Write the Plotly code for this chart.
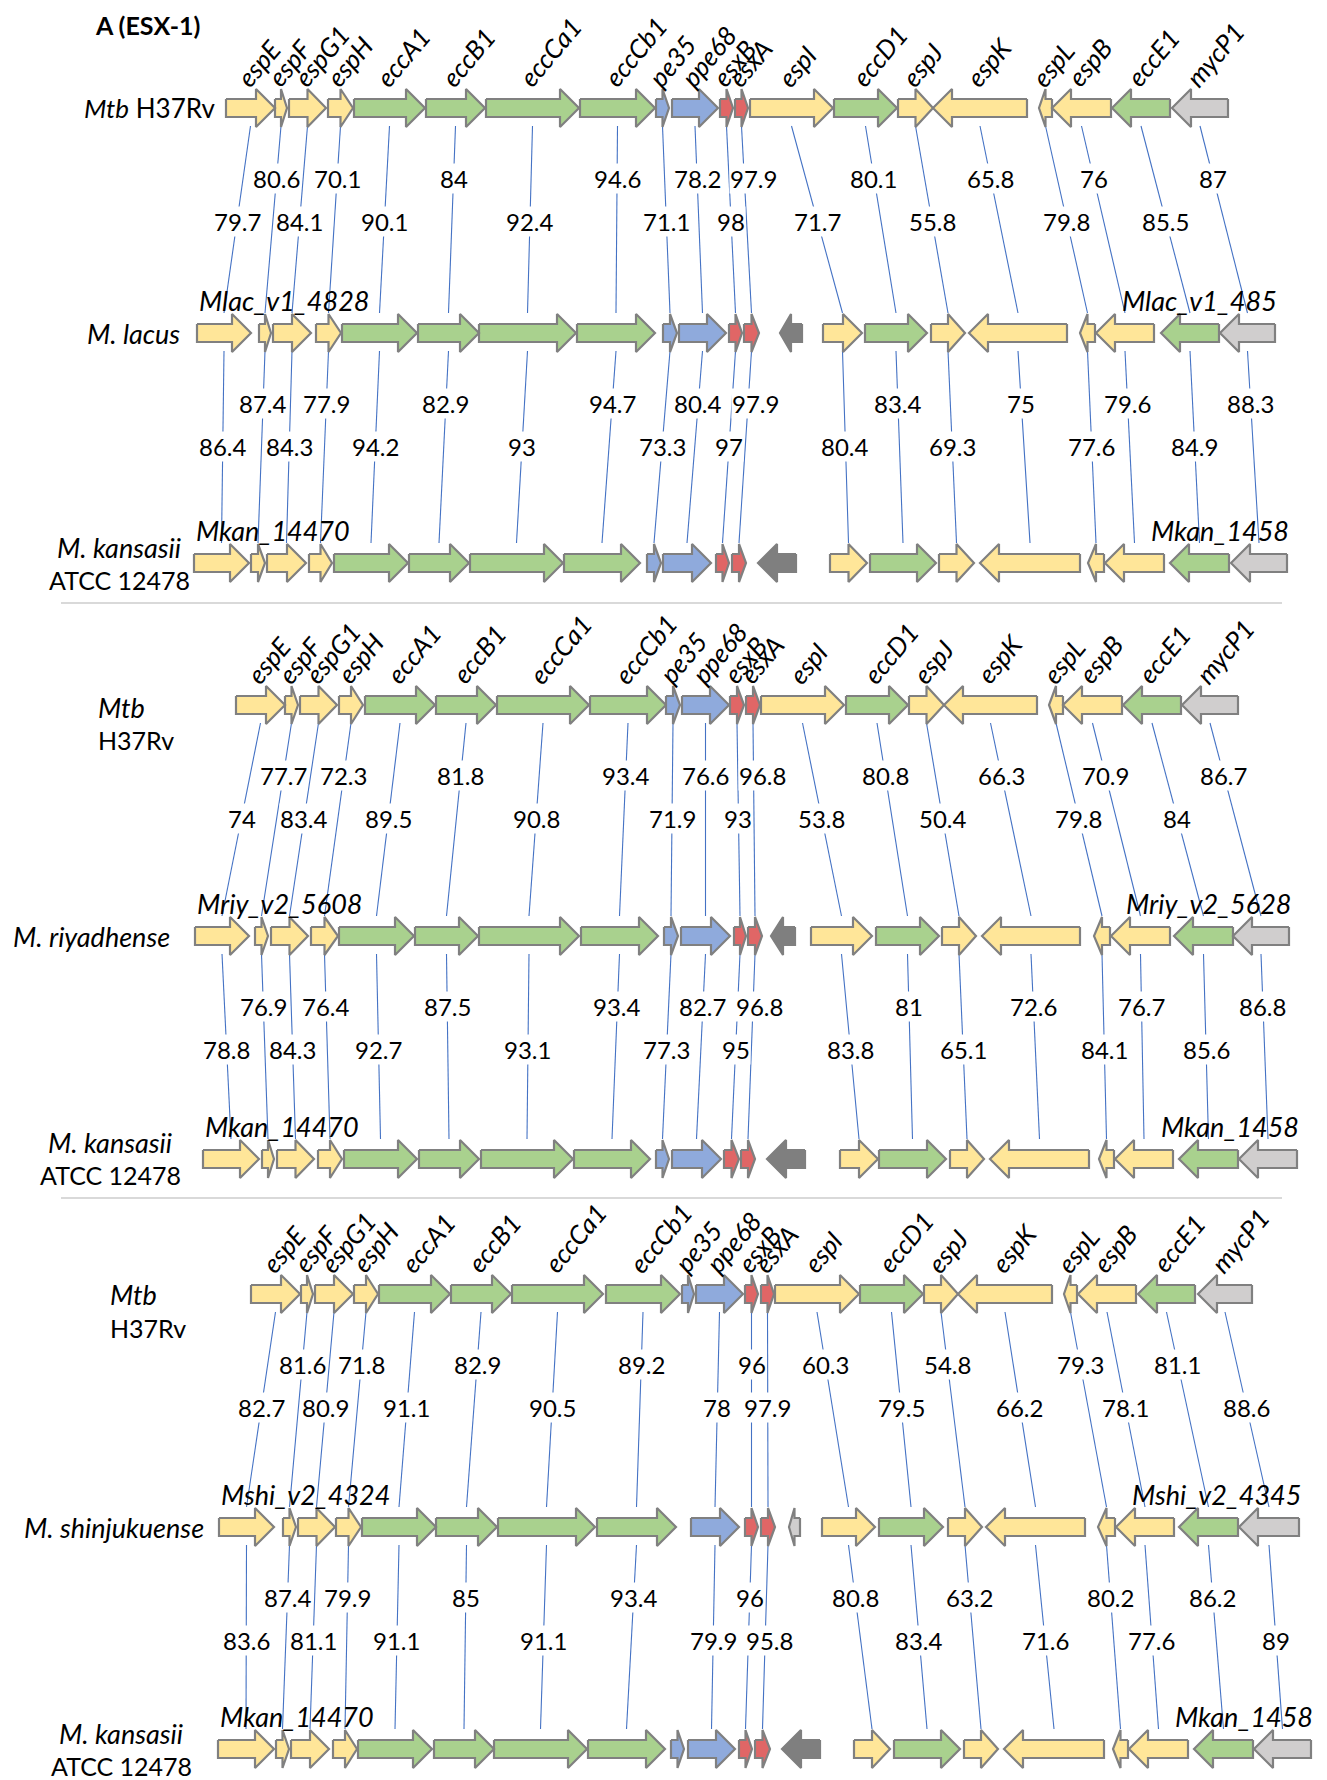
import plotly.graph_objects as go

# ---- data -----------------------------------------------------------------
GENES = ["espE", "espF", "espG1", "espH", "eccA1", "eccB1", "eccCa1", "eccCb1",
         "pe35", "ppe68", "esxB", "esxA", "orf", "espI", "eccD1", "espJ",
         "espK", "espL", "espB", "eccE1", "mycP1"]
GENE_TYPE = ["esp", "esp", "esp", "esp", "ecc", "ecc", "ecc", "ecc",
             "pe", "pe", "esx", "esx", "orf", "esp", "ecc", "esp",
             "esp", "esp", "esp", "ecc", "myc"]
REVERSE = ["orf", "espK", "espL", "espB", "eccE1", "mycP1"]

# gene extents along each row (left, right); None = gene absent
mtb1_left = [226, 275, 289, 328, 354, 426, 486, 580, 656, 672, 720, 735, None, 750, 834, 898, 933, 1039, 1052, 1112, 1172]
mtb1_right = [275, 287, 326, 353, 425, 485, 579, 655, 669, 718, 733, 748, None, 833, 897, 933, 1027, 1052, 1111, 1170, 1228]
lac_left = [197, 259, 273, 316, 342, 418, 479, 577, 663, 679, 729, 744, 780, 823, 865, 931, 969, 1080, 1096, 1161, 1220]
lac_right = [251, 271, 311, 341, 417, 479, 576, 655, 677, 726, 742, 759, 802, 862, 927, 965, 1067, 1095, 1154, 1219, 1275]
kan1_left = [194, 251, 267, 309, 334, 409, 470, 564, 647, 663, 716, 732, 758, 830, 870, 939, 980, 1088, 1105, 1170, 1231]
kan1_right = [249, 265, 306, 332, 408, 469, 563, 640, 661, 711, 729, 746, 796, 867, 936, 974, 1080, 1104, 1164, 1229, 1287]

mtb2_left = [236, 285, 300, 339, 365, 436, 497, 590, 666, 682, 730, 746, None, 761, 846, 909, 944, 1049, 1063, 1123, 1182]
mtb2_right = [285, 298, 337, 363, 435, 496, 589, 666, 680, 729, 744, 760, None, 844, 908, 944, 1037, 1063, 1122, 1181, 1238]
riy_left = [195, 255, 271, 311, 339, 415, 479, 581, 664, 681, 734, 748, 771, 811, 876, 942, 982, 1094, 1111, 1174, 1233]
riy_right = [249, 268, 308, 338, 414, 478, 579, 658, 678, 730, 746, 762, 795, 872, 939, 976, 1080, 1110, 1170, 1233, 1289]
kan2_left = [203, 262, 277, 318, 344, 419, 481, 574, 656, 672, 724, 741, 767, 840, 879, 950, 990, 1099, 1115, 1179, 1239]
kan2_right = [259, 274, 314, 342, 417, 479, 573, 650, 669, 721, 739, 755, 805, 878, 946, 984, 1089, 1114, 1173, 1238, 1297]

mtb3_left = [251, 301, 315, 354, 379, 451, 512, 606, 682, 696, 745, 761, None, 775, 860, 924, 958, 1064, 1078, 1138, 1198]
mtb3_right = [300, 313, 353, 378, 450, 511, 603, 680, 694, 743, 758, 774, None, 859, 923, 958, 1052, 1077, 1136, 1195, 1252]
shi_left = [219, 283, 298, 336, 362, 436, 498, 597, None, 691, 745, 761, 789, 822, 879, 948, 986, 1098, 1116, 1179, 1239]
shi_right = [274, 296, 335, 361, 436, 497, 595, 676, None, 739, 758, 775, 800, 875, 943, 982, 1085, 1115, 1174, 1238, 1299]
kan3_left = [218, 276, 291, 333, 358, 434, 494, 588, 671, 688, 739, 755, 782, 854, 894, 964, 1004, 1113, 1129, 1194, 1254]
kan3_right = [274, 289, 329, 357, 432, 494, 587, 665, 684, 735, 752, 770, 820, 890, 960, 998, 1104, 1128, 1188, 1253, 1311]

# % identity, one value per gene (orf excluded), None = no pair
id_mtb_lac = [79.7, 80.6, 84.1, 70.1, 90.1, 84, 92.4, 94.6, 71.1, 78.2, 98, 97.9, 71.7, 80.1, 55.8, 65.8, 79.8, 76, 85.5, 87]
id_lac_kan = [86.4, 87.4, 84.3, 77.9, 94.2, 82.9, 93, 94.7, 73.3, 80.4, 97, 97.9, 80.4, 83.4, 69.3, 75, 77.6, 79.6, 84.9, 88.3]
id_mtb_riy = [74, 77.7, 83.4, 72.3, 89.5, 81.8, 90.8, 93.4, 71.9, 76.6, 93, 96.8, 53.8, 80.8, 50.4, 66.3, 79.8, 70.9, 84, 86.7]
id_riy_kan = [78.8, 76.9, 84.3, 76.4, 92.7, 87.5, 93.1, 93.4, 77.3, 82.7, 95, 96.8, 83.8, 81, 65.1, 72.6, 84.1, 76.7, 85.6, 86.8]
id_mtb_shi = [82.7, 81.6, 80.9, 71.8, 91.1, 82.9, 90.5, 89.2, None, 78, 96, 97.9, 60.3, 79.5, 54.8, 66.2, 79.3, 78.1, 81.1, 88.6]
id_shi_kan = [83.6, 87.4, 81.1, 79.9, 91.1, 85, 91.1, 93.4, None, 79.9, 96, 95.8, 80.8, 83.4, 63.2, 71.6, 80.2, 77.6, 86.2, 89]

tags_p1 = ["Mlac_v1_4828", "Mlac_v1_485", "Mkan_14470", "Mkan_1458"]
tags_p2 = ["Mriy_v2_5608", "Mriy_v2_5628", "Mkan_14470", "Mkan_1458"]
tags_p3 = ["Mshi_v2_4324", "Mshi_v2_4345", "Mkan_14470", "Mkan_1458"]

# ---- styles ---------------------------------------------------------------
FONT = "Lato, Carlito, Calibri, sans-serif"
FILL = {"esp": "#FFE699", "ecc": "#A9D18E", "pe": "#8FAADC", "esx": "#E06666",
        "myc": "#D0CECE", "orf": "#7F7F7F", "orf_light": "#D0CECE"}
EDGE = "#808080"
LINK = "#4472C4"

W, H = 1327, 1780
PAD = 8  # the page body keeps an 8px margin

panels = [
    dict(rows=[(mtb1_left, mtb1_right), (lac_left, lac_right), (kan1_left, kan1_right)],
         ys=[108, 333, 563], ids=[id_mtb_lac, id_lac_kan], tags=tags_p1, orf="orf"),
    dict(rows=[(mtb2_left, mtb2_right), (riy_left, riy_right), (kan2_left, kan2_right)],
         ys=[705, 936, 1159], ids=[id_mtb_riy, id_riy_kan], tags=tags_p2, orf="orf"),
    dict(rows=[(mtb3_left, mtb3_right), (shi_left, shi_right), (kan3_left, kan3_right)],
         ys=[1294, 1527, 1749], ids=[id_mtb_shi, id_shi_kan], tags=tags_p3, orf="orf_light"),
]


def arrow(left, right, y, reverse):
    h = min(19, (right - left) / 2)
    if reverse:
        xs = [right, left + h, left + h, left, left + h, left + h, right, right]
    else:
        xs = [left, right - h, right - h, right, right - h, right - h, left, left]
    ys = [y - 9, y - 9, y - 19, y, y + 19, y + 9, y + 9, y - 9]
    return xs, ys


fig = go.Figure()
polys = {k: ([], []) for k in FILL}
link_x, link_y = [], []
annotations = []


def note(x, y, text, xanchor="center", yanchor="middle", size=24, **kw):
    annotations.append(dict(x=x, y=y, text=text, showarrow=False, xanchor=xanchor,
                            yanchor=yanchor, font=dict(family=FONT, size=size, color="black"), **kw))


def spread(labels, size=24):
    # push overlapping % labels of one level apart, left to right
    labels.sort(key=lambda t: t[0])
    out = []
    for x, y, s in labels:
        w = len(s) * 0.5 * size + 0.2 * size
        if out:
            px, pw = out[-1][0], out[-1][3]
            if x - w / 2 < px + pw / 2 + 4:
                x = px + pw / 2 + 4 + w / 2
        out.append((x, y, s, w))
    for x, y, s, w in out:
        note(x, y, s, bgcolor="white", borderpad=0, size=size)


id_genes = [g for g in GENES if g != "orf"]

for p in panels:
    ys = p["ys"]
    # arrows
    for r, (lefts, rights) in enumerate(p["rows"]):
        for i, g in enumerate(GENES):
            if lefts[i] is None:
                continue
            kind = GENE_TYPE[i]
            if kind == "orf" and r == 1:
                kind = p["orf"]
            xs, yy = arrow(lefts[i], rights[i], ys[r], g in REVERSE)
            polys[kind][0].extend(xs + [None])
            polys[kind][1].extend(yy + [None])
    # gene names above the Mtb row
    lefts, rights = p["rows"][0]
    for i, g in enumerate(GENES):
        if lefts[i] is None:
            continue
        c = (lefts[i] + rights[i]) / 2
        note(c - 22, ys[0] - 14, "<i>%s</i>" % g, xanchor="left", yanchor="bottom",
             size=26, textangle=-50, borderpad=0)
    # homology links with % identity
    for k in range(2):
        la, ra = p["rows"][k]
        lb, rb = p["rows"][k + 1]
        y1, y2 = ys[k], ys[k + 1]
        n = 0
        levels = {0: [], 1: []}
        for j, g in enumerate(id_genes):
            i = GENES.index(g)
            v = p["ids"][k][j]
            if v is None or la[i] is None or lb[i] is None:
                continue
            xa = (la[i] + ra[i]) / 2
            xb = (lb[i] + rb[i]) / 2
            ya, yb = y1 + 18, y2 - 20
            link_x.extend([xa, xb, None])
            link_y.extend([ya, yb, None])
            yl = y1 + (113 if n % 2 == 0 else 70)
            xl = xa + (xb - xa) * (yl - ya) / (yb - ya)
            levels[n % 2].append((xl, yl, "%g" % v))
            n += 1
        spread(levels[0])
        spread(levels[1])
    # locus tags on the two lower rows
    for r in (1, 2):
        lefts, rights = p["rows"][r]
        first = min(v for v in lefts if v is not None)
        last = max(v for v in rights if v is not None)
        note(first, ys[r] - 33, "<i>%s</i>" % p["tags"][2 * (r - 1)], xanchor="left", size=27)
        note(last + 4, ys[r] - 33, "<i>%s</i>" % p["tags"][2 * (r - 1) + 1], xanchor="right", size=27)

fig.add_trace(go.Scatter(x=link_x, y=link_y, mode="lines",
                         line=dict(color=LINK, width=1.1), hoverinfo="skip"))
for kind, (xs, yy) in polys.items():
    if not xs:
        continue
    fig.add_trace(go.Scatter(x=xs, y=yy, mode="lines", fill="toself", fillcolor=FILL[kind],
                             line=dict(color=EDGE if kind != "orf" else FILL[kind], width=2.2),
                             hoverinfo="skip"))

# species labels
note(94, PAD + 1, "<b>A (ESX-1)</b>", xanchor="left", yanchor="top", size=25, borderpad=0)
note(218, 108, "<i>Mtb</i> H37Rv", xanchor="right", size=26)
note(182, 333, "<i>M. lacus</i>", xanchor="right", size=27)
note(119, 547, "<i>M. kansasii</i>", size=27)
note(119, 580, "ATCC 12478", size=25)
note(96, 707, "<i>Mtb</i>", xanchor="left", size=27)
note(96, 740, "H37Rv", xanchor="left", size=25)
note(172, 936, "<i>M. riyadhense</i>", xanchor="right", size=27)
note(110, 1142, "<i>M. kansasii</i>", size=27)
note(110, 1175, "ATCC 12478", size=25)
note(108, 1294, "<i>Mtb</i>", xanchor="left", size=27)
note(108, 1328, "H37Rv", xanchor="left", size=25)
note(206, 1527, "<i>M. shinjukuense</i>", xanchor="right", size=27)
note(121, 1733, "<i>M. kansasii</i>", size=27)
note(121, 1766, "ATCC 12478", size=25)

shapes = [dict(type="line", xref="x", yref="y", x0=61, x1=1282, y0=yy, y1=yy,
               line=dict(color="#D9D9D9", width=2)) for yy in (603, 1198)]

fig.update_layout(
    width=W - PAD, height=H - PAD,
    margin=dict(l=0, r=0, t=0, b=0),
    paper_bgcolor="white", plot_bgcolor="white",
    showlegend=False,
    xaxis=dict(range=[PAD, W], visible=False, fixedrange=True),
    yaxis=dict(range=[H, PAD], visible=False, fixedrange=True),
    annotations=annotations,
    shapes=shapes,
)

fig.write_html("out.html")
